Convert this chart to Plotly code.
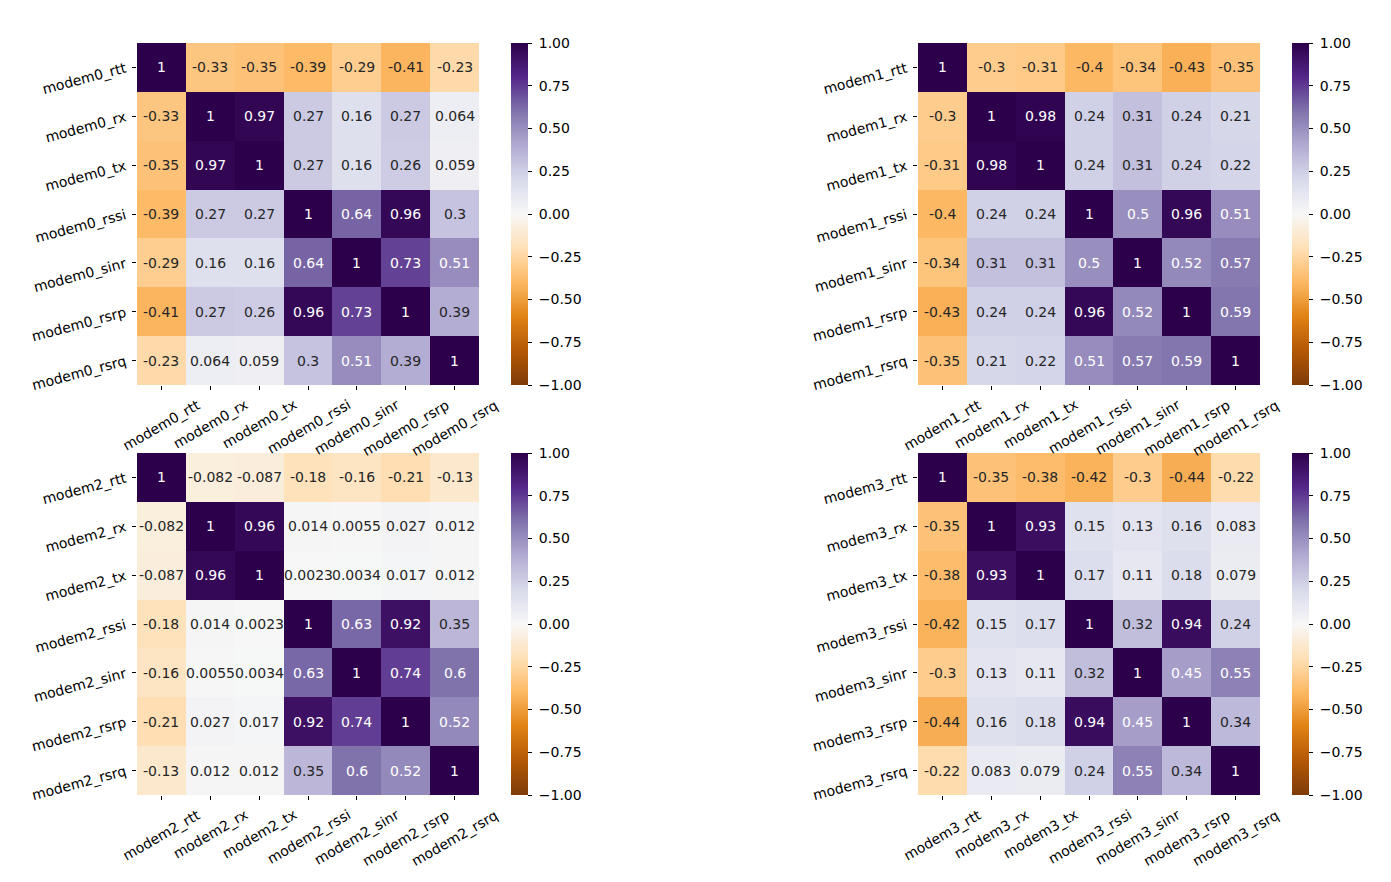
import plotly.graph_objects as go

features = ["rtt", "rx", "tx", "rssi", "sinr", "rsrp", "rsrq"]

modem0_corr = [
    [1, -0.33, -0.35, -0.39, -0.29, -0.41, -0.23],
    [-0.33, 1, 0.97, 0.27, 0.16, 0.27, 0.064],
    [-0.35, 0.97, 1, 0.27, 0.16, 0.26, 0.059],
    [-0.39, 0.27, 0.27, 1, 0.64, 0.96, 0.3],
    [-0.29, 0.16, 0.16, 0.64, 1, 0.73, 0.51],
    [-0.41, 0.27, 0.26, 0.96, 0.73, 1, 0.39],
    [-0.23, 0.064, 0.059, 0.3, 0.51, 0.39, 1],
]
modem1_corr = [
    [1, -0.3, -0.31, -0.4, -0.34, -0.43, -0.35],
    [-0.3, 1, 0.98, 0.24, 0.31, 0.24, 0.21],
    [-0.31, 0.98, 1, 0.24, 0.31, 0.24, 0.22],
    [-0.4, 0.24, 0.24, 1, 0.5, 0.96, 0.51],
    [-0.34, 0.31, 0.31, 0.5, 1, 0.52, 0.57],
    [-0.43, 0.24, 0.24, 0.96, 0.52, 1, 0.59],
    [-0.35, 0.21, 0.22, 0.51, 0.57, 0.59, 1],
]
modem2_corr = [
    [1, -0.082, -0.087, -0.18, -0.16, -0.21, -0.13],
    [-0.082, 1, 0.96, 0.014, 0.0055, 0.027, 0.012],
    [-0.087, 0.96, 1, 0.0023, 0.0034, 0.017, 0.012],
    [-0.18, 0.014, 0.0023, 1, 0.63, 0.92, 0.35],
    [-0.16, 0.0055, 0.0034, 0.63, 1, 0.74, 0.6],
    [-0.21, 0.027, 0.017, 0.92, 0.74, 1, 0.52],
    [-0.13, 0.012, 0.012, 0.35, 0.6, 0.52, 1],
]
modem3_corr = [
    [1, -0.35, -0.38, -0.42, -0.3, -0.44, -0.22],
    [-0.35, 1, 0.93, 0.15, 0.13, 0.16, 0.083],
    [-0.38, 0.93, 1, 0.17, 0.11, 0.18, 0.079],
    [-0.42, 0.15, 0.17, 1, 0.32, 0.94, 0.24],
    [-0.3, 0.13, 0.11, 0.32, 1, 0.45, 0.55],
    [-0.44, 0.16, 0.18, 0.94, 0.45, 1, 0.34],
    [-0.22, 0.083, 0.079, 0.24, 0.55, 0.34, 1],
]

colorbar_ticks = [-1.0, -0.75, -0.5, -0.25, 0.0, 0.25, 0.5, 0.75, 1.0]
colorbar_ticktext = ["\u00a0" + ("%.2f" % t).replace("-", "\u2212") for t in colorbar_ticks]

puor = [
    (127, 59, 8), (179, 88, 6), (224, 130, 20), (253, 184, 99), (254, 224, 182),
    (247, 247, 247), (216, 218, 235), (178, 171, 210), (128, 115, 172), (84, 39, 136), (45, 0, 75),
]
colorscale = [[i / 10, "rgb(%d,%d,%d)" % c] for i, c in enumerate(puor)]


def color_at(v):
    t = (v + 1) / 2 * 10
    i = min(int(t), 9)
    f = t - i
    a, b = puor[i], puor[i + 1]
    return tuple((a[k] + (b[k] - a[k]) * f) / 255 for k in range(3))


def luminance(rgb):
    def lin(c):
        return c / 12.92 if c <= 0.03928 else ((c + 0.055) / 1.055) ** 2.4
    r, g, b = (lin(c) for c in rgb)
    return 0.2126 * r + 0.7152 * g + 0.0722 * b


W, H = 1391, 882
OFF = 8  # page body margin
panels = [
    ("modem0", modem0_corr, 137, 43),
    ("modem1", modem1_corr, 918, 43),
    ("modem2", modem2_corr, 137, 453),
    ("modem3", modem3_corr, 918, 453),
]
size = 342
FS = 14
n = len(features)

fig = go.Figure()
annotations = []
font_family = "DejaVu Sans"
for idx, (name, corr, sx, sy) in enumerate(panels):
    px, py = sx - OFF, sy - OFF
    labels = [f"{name}_{f}" for f in features]
    ax = "" if idx == 0 else str(idx + 1)
    x0, x1 = px / W, (px + size) / W
    y1, y0 = 1 - py / H, 1 - (py + size) / H
    fig.add_trace(go.Heatmap(
        z=corr, x=labels, y=labels,
        xaxis="x" + ax, yaxis="y" + ax,
        zmin=-1, zmax=1, colorscale=colorscale,
        hoverinfo="skip",
        colorbar=dict(
            x=(px + size + 32) / W, xanchor="left",
            y=(y0 + y1) / 2, yanchor="middle",
            len=size / H, lenmode="fraction",
            thickness=17, outlinewidth=0, xpad=0, ypad=0,
            ticks="outside", ticklen=4, tickcolor="#000",
            tickvals=colorbar_ticks, ticktext=colorbar_ticktext, tickmode="array",
            tickfont=dict(family=font_family, size=FS, color="#000"),
        ),
    ))
    fig.layout["xaxis" + ax] = dict(
        domain=[x0, x1], anchor="y" + ax, automargin=False, showticklabels=False,
        range=[-0.5, n - 0.5], autorange=False,
        ticks="outside", ticklen=4, tickcolor="#000",
        showgrid=False, zeroline=False, showline=False,
    )
    fig.layout["yaxis" + ax] = dict(
        domain=[y0, y1], anchor="x" + ax, range=[n - 0.5, -0.5], autorange=False,
        tickangle=-15, automargin=False, ticklabelstandoff=4,
        ticks="outside", ticklen=4, tickcolor="#000",
        tickfont=dict(family=font_family, size=FS, color="#000"),
        showgrid=False, zeroline=False, showline=False,
    )
    for lab in labels:
        annotations.append(dict(
            x=lab, xref="x" + ax, y=y0, yref="paper", yshift=-10,
            xanchor="center", yanchor="top", textangle=-30,
            text=lab, showarrow=False, borderpad=0,
            font=dict(family=font_family, size=FS, color="#000"),
        ))
    for i, row in enumerate(corr):
        for j, v in enumerate(row):
            col = "#262626" if luminance(color_at(v)) > 0.408 else "#ffffff"
            annotations.append(dict(
                x=labels[j], y=labels[i], xref="x" + ax, yref="y" + ax,
                text=format(v, ".2g"), showarrow=False,
                font=dict(family=font_family, size=FS, color=col),
            ))

fig.update_layout(
    width=W, height=H,
    margin=dict(l=0, r=0, t=0, b=0, pad=0, autoexpand=False),
    paper_bgcolor="white", plot_bgcolor="white",
    annotations=annotations, showlegend=False,
)
fig.write_html("out.html")
